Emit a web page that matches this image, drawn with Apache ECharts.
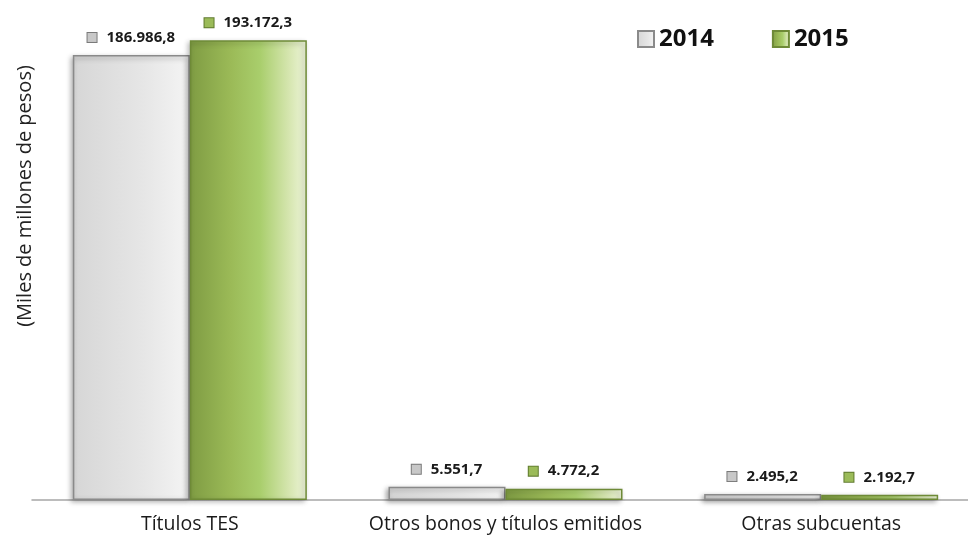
<!DOCTYPE html>
<html>
<head>
<meta charset="utf-8">
<script src="https://cdn.jsdelivr.net/npm/echarts@6/dist/echarts.min.js"></script>
<style>
  html, body { margin: 0; padding: 0; background: #fff; }
  #chart { width: 968px; height: 540px; }
</style>
</head>
<body>
<div id="chart"></div>
<script>
const categories = ['Títulos TES', 'Otros bonos y títulos emitidos', 'Otras subcuentas']
const years = ['2014', '2015']
const values2014 = [186986.8, 5551.7, 2495.2]
const values2015 = [193172.3, 4772.2, 2192.7]

const fontFamily = '"Open Sans", "Noto Sans", sans-serif'

// horizontal gradients for the bars
const greyFill = new echarts.graphic.LinearGradient(0, 0, 1, 0, [
  { offset: 0, color: '#d6d6d6' },
  { offset: 0.6, color: '#e6e6e6' },
  { offset: 1, color: '#f4f4f4' }
])
const greenFill = new echarts.graphic.LinearGradient(0, 0, 1, 0, [
  { offset: 0, color: '#7f9c43' },
  { offset: 0.35, color: '#9bba57' },
  { offset: 0.6, color: '#a9ce6c' },
  { offset: 0.85, color: '#d6e6b0' },
  { offset: 1, color: '#eef5da' }
])

function fmt(v) {
  const parts = v.toFixed(1).split('.')
  return parts[0].replace(/\B(?=(\d{3})+(?!\d))/g, '.') + ',' + parts[1]
}

function makeLabel(sqColor, sqBorder) {
  return {
    show: true,
    position: 'top',
    distance: 10,
    formatter: p => '{sq|}   {v|' + fmt(p.value) + '}',
    rich: {
      sq: {
        width: 9,
        height: 9,
        backgroundColor: sqColor,
        borderColor: sqBorder,
        borderWidth: 1
      },
      v: {
        fontFamily: fontFamily,
        fontSize: 15,
        fontWeight: 'bold',
        color: '#1a1a1a'
      }
    }
  }
}

const chart = echarts.init(document.getElementById('chart'))

chart.setOption({
  animation: false,
  backgroundColor: '#fff',
  grid: {
    left: 32,
    top: 24,
    width: 947,
    height: 476,
    outerBoundsMode: 'none'
  },
  legend: {
    top: 22,
    left: 632,
    itemWidth: 16,
    itemHeight: 16,
    itemGap: 58,
    icon: 'rect',
    data: years,
    textStyle: {
      fontFamily: fontFamily,
      fontSize: 24,
      fontWeight: 'bold',
      color: '#111'
    }
  },
  graphic: [
    {
      type: 'text',
      x: 25,
      y: 196,
      rotation: Math.PI / 2,
      style: {
        text: '(Miles de millones de pesos)',
        fontFamily: fontFamily,
        fontSize: 20,
        fill: '#222',
        align: 'center',
        verticalAlign: 'middle'
      }
    }
  ],
  xAxis: {
    type: 'category',
    data: categories,
    axisLine: { lineStyle: { color: '#a6a6a6', width: 1.5 } },
    axisTick: { show: false },
    axisLabel: {
      interval: 0,
      margin: 14,
      fontFamily: fontFamily,
      fontSize: 19.5,
      color: '#1a1a1a'
    }
  },
  yAxis: {
    type: 'value',
    min: 0,
    max: 200000,
    show: false,
    splitLine: { show: false }
  },
  series: [
    {
      name: '2014',
      type: 'bar',
      barWidth: 117,
      barGap: 0,
      data: values2014,
      itemStyle: {
        color: greyFill,
        borderColor: '#8a8a8a',
        borderWidth: 1.5,
        shadowBlur: 5,
        shadowColor: 'rgba(0,0,0,0.35)',
        shadowOffsetX: -2,
        shadowOffsetY: 2
      },
      label: makeLabel('#c8c8c8', '#7a7a7a')
    },
    {
      name: '2015',
      type: 'bar',
      barWidth: 117,
      barGap: 0,
      data: values2015,
      itemStyle: {
        color: greenFill,
        borderColor: '#6e8a37',
        borderWidth: 1.5,
        shadowBlur: 5,
        shadowColor: 'rgba(0,0,0,0.3)',
        shadowOffsetX: -2,
        shadowOffsetY: 2
      },
      label: makeLabel('#9bbb59', '#5f7a2e')
    }
  ]
})
</script>
</body>
</html>
